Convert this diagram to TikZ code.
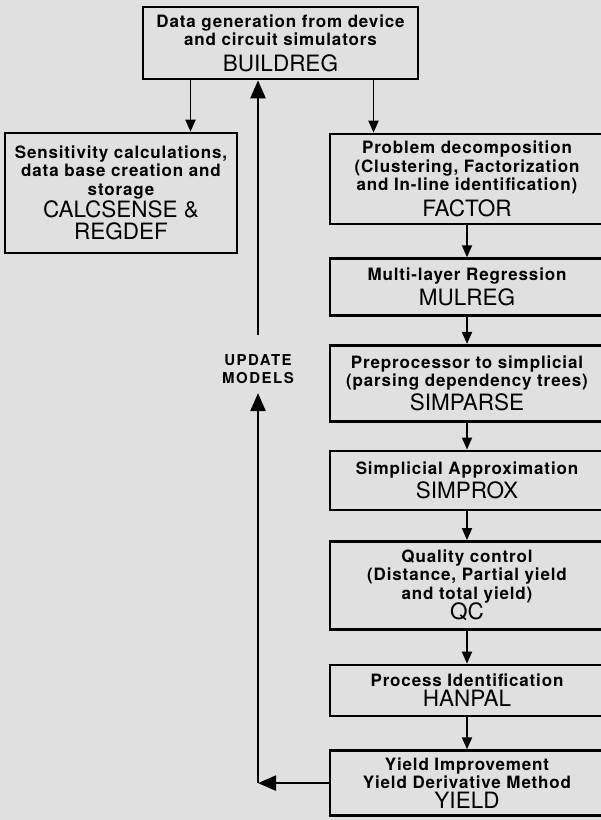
\documentclass[tikz,border=0pt]{standalone}
\usepackage{fontspec}
\setmainfont{TeX Gyre Heros}
\newfontfamily\boxfont[LetterSpace=5]{TeX Gyre Heros}
\newfontfamily\labelfont[LetterSpace=10]{TeX Gyre Heros}
\usetikzlibrary{arrows.meta,positioning}

\definecolor{bggray}{RGB}{224,224,224}
% program names are set larger and not bold
\newcommand{\prog}[1]{{\normalfont\fontsize{22.5}{24}\selectfont #1}}
\lineskiplimit=-100pt

\begin{document}
\begin{tikzpicture}[
  x=1pt, y=-1pt,
  node distance=30pt,
  block/.style={draw, line width=2.6pt, fill=bggray, align=center, inner sep=2pt,
    font=\boxfont\bfseries\fontsize{17}{18.5}\selectfont},
  stage/.style={block, minimum width=274pt},
  line/.style={-{Triangle[length=12pt,width=10pt]}, line width=1.8pt},
  bigline/.style={-{Triangle[length=18pt,width=15pt]}, line width=2.4pt}
]
\path[use as bounding box, fill=bggray] (0,0) rectangle (601,820);

\node[block, minimum width=275pt, minimum height=72pt] (build) at (280.5,43)
  {Data generation from device\\and circuit simulators\\[7pt]\prog{BUILDREG}};
\node[block, minimum width=232pt, minimum height=120pt] (sense) at (121,193)
  {Sensitivity calculations,\\data base creation and\\storage\\[4pt]\prog{CALCSENSE \&}\\[3.5pt]\prog{REGDEF}};

% main chain on the right
\node[stage, minimum height=90pt] (factor) at (467,179)
  {Problem decomposition\\(Clustering, Factorization\\and In-line identification)\\[7pt]\prog{FACTOR}};
\node[stage, minimum height=57pt, below=32pt of factor] (mulreg)
  {Multi-layer Regression\\[6pt]\prog{MULREG}};
\node[stage, minimum height=76pt, below=27pt of mulreg] (simparse)
  {Preprocessor to simplicial\\(parsing dependency trees)\\[5pt]\prog{SIMPARSE}};
\node[stage, minimum height=59pt, below=27pt of simparse] (simprox)
  {Simplicial Approximation\\[5pt]\prog{SIMPROX}};
\node[stage, minimum height=88pt, below=29pt of simprox] (qc)
  {Quality control\\(Distance, Partial yield\\and total yield)\\[2pt]\prog{QC}};
\node[stage, minimum height=51pt, below=33pt of qc] (hanpal)
  {Process Identification\\[1.5pt]\prog{HANPAL}};
\node[stage, minimum height=65pt, below=32pt of hanpal] (yield)
  {Yield Improvement\\Yield Derivative Method\\[1pt]\prog{YIELD}};

\node[font=\labelfont\bfseries\fontsize{15}{18}\selectfont, align=center] (upd) at (258,369)
  {UPDATE\\MODELS};

\draw[line] ([xshift=-90pt]build.south) -- ([xshift=-90pt]build.south |- sense.north);
\draw[line] ([xshift=93pt]build.south) -- ([xshift=93pt]build.south |- factor.north);
\draw[line] (factor) -- (mulreg);
\draw[line] (mulreg) -- (simparse);
\draw[line] (simparse) -- (simprox);
\draw[line] (simprox) -- (qc);
\draw[line] (qc) -- (hanpal);
\draw[line] (hanpal) -- (yield);

% feedback loop back to the model builder
\coordinate (turn) at (yield.west -| upd.south);
\draw[bigline] (yield.west) -- (turn);
\draw[bigline, shorten >=6pt] (turn) -- (upd.south);
\draw[bigline, shorten <=16pt] (upd.north) -- (upd.north |- build.south);
\end{tikzpicture}
\end{document}
